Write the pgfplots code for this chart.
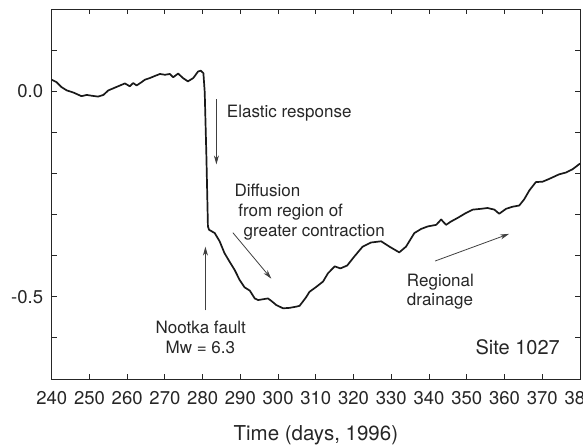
\documentclass[border=0pt]{standalone}
\usepackage{pgfplots}
\pgfplotsset{compat=1.18}
\usepackage{fontspec}
\setmainfont{TeX Gyre Heros}
\usetikzlibrary{arrows.meta}

% Pore pressure record at Site 1027, days 240-380 of 1996
\pgfplotstableread{
x y
240.0 0.028
241.3 0.022
242.6 0.010
244.0 0.002
245.7 -0.003
247.9 -0.012
249.3 -0.009
250.6 -0.011
252.3 -0.013
253.7 -0.009
255.0 0.002
256.3 0.007
258.1 0.014
259.4 0.019
260.7 0.012
261.6 0.020
262.5 0.014
263.8 0.022
264.7 0.028
266.0 0.032
267.3 0.037
268.7 0.042
270.0 0.040
271.3 0.042
272.2 0.034
273.5 0.043
274.8 0.032
276.1 0.024
277.5 0.032
278.8 0.048
279.5 0.050
280.2 0.044
280.55 -0.002
281.0 -0.160
281.4 -0.329
281.7 -0.337
283.2 -0.345
284.5 -0.365
285.8 -0.394
287.1 -0.414
288.5 -0.435
289.8 -0.459
291.1 -0.477
292.5 -0.485
293.8 -0.504
294.7 -0.508
296.0 -0.506
297.3 -0.504
298.2 -0.510
299.5 -0.520
301.3 -0.528
303.0 -0.527
304.8 -0.524
305.7 -0.522
307.5 -0.500
308.3 -0.488
310.1 -0.476
311.9 -0.463
313.2 -0.443
315.0 -0.426
316.5 -0.431
318.3 -0.424
320.2 -0.402
322.4 -0.378
324.6 -0.368
327.3 -0.365
329.5 -0.378
332.1 -0.392
333.9 -0.378
336.1 -0.345
337.9 -0.335
339.6 -0.329
341.9 -0.325
343.2 -0.312
344.5 -0.325
345.8 -0.317
347.6 -0.308
349.8 -0.296
351.6 -0.288
353.8 -0.286
355.5 -0.284
357.3 -0.288
358.6 -0.298
360.4 -0.286
362.1 -0.281
363.9 -0.278
365.2 -0.263
366.6 -0.241
368.3 -0.221
370.1 -0.220
371.9 -0.213
374.5 -0.202
376.2 -0.198
378.0 -0.190
380.0 -0.176
}\sitedata

\begin{document}
\begin{tikzpicture}[font=\fontsize{17}{20}\selectfont]
\begin{axis}[
  at={(0,0)}, anchor=south west,
  scale only axis,
  width=528.3pt, height=370pt,
  xmin=240, xmax=380,
  ymin=-0.7, ymax=0.2,
  xtick={240,250,...,380},
  ytick={-0.6,-0.5,-0.4,-0.3,-0.2,-0.1,0,0.1},
  yticklabels={{},{-0.5},{},{},{},{},{0.0},{}},
  tick pos=both,
  tick align=inside,
  major tick length=5pt,
  axis line style={line width=1pt, black!85},
  every tick/.style={line width=0.9pt, black!85},
  /pgf/number format/assume math mode=true,
  ticklabel style={font=\fontsize{18.5}{22}\selectfont},
  xticklabel style={anchor=base, yshift=-25pt, inner sep=0pt, text=black!85},
  yticklabel style={anchor=base east, xshift=-8.4pt, yshift=-6.5pt, inner sep=0pt, text=black!85},
  clip mode=individual,
]
\addplot[line width=1.7pt, black!90, line join=round] table[x=x, y=y] {\sitedata};

% annotation arrows
\draw[line width=0.8pt, black!75, -{Stealth[length=9pt,width=5pt]}]
  (axis cs:283.65,-0.019) -- (axis cs:283.65,-0.178);
\draw[line width=0.8pt, black!75, -{Stealth[length=9pt,width=5pt]}]
  (axis cs:288.0,-0.344) -- (axis cs:298.2,-0.456);
\draw[line width=0.8pt, black!75, -{Stealth[length=9pt,width=5pt]}]
  (axis cs:280.74,-0.533) -- (axis cs:280.74,-0.378);
\draw[line width=0.8pt, black!75, -{Stealth[length=9pt,width=5pt]}]
  (axis cs:341.6,-0.413) -- (axis cs:361.2,-0.347);

% annotation text
\begin{scope}[every node/.style={inner sep=0pt, text=black!85}]
\node[anchor=base west] at (axis cs:286.4,-0.0636) {Elastic response};
\node[anchor=base west] at (axis cs:288.4,-0.2554) {Diffusion};
\node[anchor=base west] at (axis cs:289.4,-0.3043) {from region of};
\node[anchor=base west] at (axis cs:290.8,-0.3532) {greater contraction};
\node[anchor=base] at (axis cs:279.5,-0.5895) {Nootka fault};
\node[anchor=base] at (axis cs:279.4,-0.6385) {Mw = 6.3};
\node[anchor=base west] at (axis cs:334.1,-0.4738) {Regional};
\node[anchor=base west] at (axis cs:334.1,-0.521) {drainage};
\node[anchor=base east, font=\fontsize{20}{24}\selectfont] at (axis cs:374.7,-0.640) {Site 1027};
\node[anchor=base, font=\fontsize{20.5}{24}\selectfont] at (rel axis cs:0.5,0) [yshift=-61.7pt] {Time (days, 1996)};
\end{scope}
\end{axis}
\pgfresetboundingbox
\path[use as bounding box] (-51.7pt,-66pt) rectangle (531.3pt,379pt);
\end{tikzpicture}
\end{document}
